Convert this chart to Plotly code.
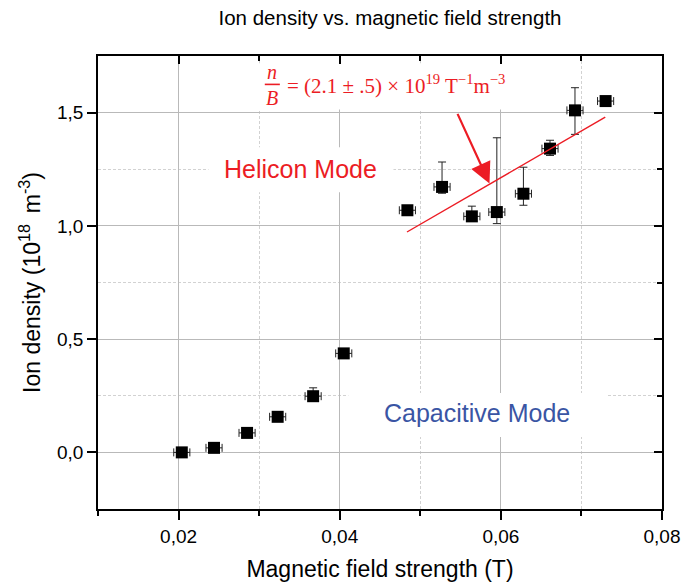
import plotly.graph_objects as go

# ---- data ----
field_T = [0.0204, 0.0244, 0.0285, 0.0323, 0.0367, 0.0405, 0.0484, 0.0527,
           0.0564, 0.0595, 0.0628, 0.0661, 0.0692, 0.0730]
density = [0.000, 0.020, 0.086, 0.157, 0.248, 0.437, 1.069, 1.172,
           1.042, 1.061, 1.142, 1.341, 1.510, 1.551]
dens_err_plus = [0, 0, 0, 0, 0.037, 0, 0, 0.110, 0.045, 0.328, 0.117, 0.037, 0.100, 0]
dens_err_minus = [0, 0, 0, 0, 0, 0, 0, 0.028, 0.020, 0.051, 0.051, 0.030, 0.106, 0]
field_err = 0.001

fit_x = [0.04835, 0.07296]
fit_y = [0.973, 1.480]

RED = "#ec1c24"
BLUE = "#3a55a4"
SANS = "Liberation Sans, Arial, sans-serif"
SERIF = "Liberation Serif, Times New Roman, serif"

fig = go.Figure()

fig.add_trace(go.Scatter(
    x=field_T, y=density, mode="markers",
    marker=dict(symbol="square", size=12, color="black", line=dict(width=0)),
    error_y=dict(type="data", symmetric=False, array=dens_err_plus,
                 arrayminus=dens_err_minus, color="#222222", thickness=1, width=4),
    error_x=dict(type="constant", value=field_err, color="#222222", thickness=1, width=4),
    showlegend=False, hoverinfo="x+y"))

fig.add_trace(go.Scatter(
    x=fit_x, y=fit_y, mode="lines", line=dict(color=RED, width=1.4),
    showlegend=False, hoverinfo="skip"))

# dummy trace for mirrored inside ticks on top/right
fig.add_trace(go.Scatter(x=[None], y=[None], xaxis="x2", yaxis="y2",
                         showlegend=False, hoverinfo="skip"))

XR = [0.01, 0.08]
YR = [-0.25, 1.75]
GRID = "#b9b9b9"
MGRID = "#d2d2d2"

fig.update_layout(
    width=683, height=582,
    margin=dict(l=98, r=21, t=56, b=73),
    paper_bgcolor="white", plot_bgcolor="white",
    separators=",.",
    font=dict(family=SANS, color="black", size=19),
    title=dict(text="Ion density vs. magnetic field strength",
               x=390 / 683, xref="container", xanchor="center",
               y=1 - 18 / 582, yref="container", yanchor="middle",
               font=dict(family=SANS, size=20.5, color="black")),
    xaxis=dict(range=XR, dtick=0.02, tick0=0, tickformat=".2f", automargin=False,
               showline=True, linecolor="black", linewidth=1.8, mirror=True,
               ticks="outside", ticklen=9, tickwidth=1.8, tickcolor="black",
               showgrid=True, gridcolor=GRID, gridwidth=1, zeroline=False,
               minor=dict(dtick=0.01, tick0=0, ticks="outside", ticklen=5,
                          tickwidth=1.5, tickcolor="black", showgrid=True,
                          gridcolor=MGRID, gridwidth=1, griddash="3px,2px"),
               tickfont=dict(size=19),
               title=dict(text="Magnetic field strength (T)",
                          font=dict(size=23), standoff=19)),
    yaxis=dict(range=YR, dtick=0.5, tick0=0, tickformat=".1f", automargin=False,
               showline=True, linecolor="black", linewidth=1.8, mirror=True,
               ticks="outside", ticklen=9, tickwidth=1.8, tickcolor="black",
               showgrid=True, gridcolor=GRID, gridwidth=1, zeroline=False,
               minor=dict(dtick=0.25, tick0=0, ticks="", showgrid=True,
                          gridcolor=MGRID, gridwidth=1, griddash="3px,2px"),
               tickfont=dict(size=19),
               title=dict(text="Ion density (10<sup>18 </sup> m<sup>-3</sup>)",
                          font=dict(size=23), standoff=10)),
    xaxis2=dict(range=XR, overlaying="x", side="top", anchor="y2", automargin=False,
                dtick=0.02, tick0=0, ticks="inside", ticklen=8, tickwidth=1.8,
                tickcolor="black", showticklabels=False, showgrid=False,
                zeroline=False, showline=False,
                minor=dict(dtick=0.01, tick0=0, ticks="inside", ticklen=5,
                           tickwidth=1.5, tickcolor="black", showgrid=False)),
    yaxis2=dict(range=YR, overlaying="y", side="right", anchor="x2", automargin=False,
                dtick=0.5, tick0=0, ticks="inside", ticklen=8, tickwidth=1.8,
                tickcolor="black", showticklabels=False, showgrid=False,
                zeroline=False, showline=False,
                minor=dict(dtick=0.25, tick0=0, ticks="inside", ticklen=5,
                           tickwidth=1.5, tickcolor="black", showgrid=False)),
)

# white label boxes (hide gridlines behind text)
for (x0, x1, y0, y1) in [(0.02371, 0.04667, 1.148, 1.347),
                         (0.04107, 0.07321, 0.0675, 0.2616),
                         (0.02915, 0.06180, 1.514, 1.718)]:
    fig.add_shape(type="rect", xref="x", yref="y", x0=x0, x1=x1, y0=y0, y1=y1,
                  fillcolor="white", line=dict(width=0), layer="between")

fig.add_annotation(x=0.0351, y=1.25, xref="x", yref="y", text="Helicon Mode",
                   showarrow=False, font=dict(family=SANS, size=25, color=RED))
fig.add_annotation(x=0.0570, y=0.173, xref="x", yref="y", text="Capacitive Mode",
                   showarrow=False, font=dict(family=SANS, size=25, color=BLUE))

# formula n/B = ...
fig.add_annotation(x=0.03163, y=1.620, xref="x", yref="y",
                   text="<i>n</i><br><i>B</i>", showarrow=False, align="center",
                   font=dict(family=SERIF, size=20, color=RED))
fig.add_shape(type="line", xref="x", yref="y", x0=0.03070, x1=0.03257,
              y0=1.6246, y1=1.6246, line=dict(color=RED, width=1.6), layer="above")
fig.add_annotation(x=0.0332, y=1.6246, xref="x", yref="y", xanchor="left",
                   text="= (2.1 ± .5) × 10<sup>19</sup> T<sup>−1</sup>m<sup>−3</sup>",
                   showarrow=False, font=dict(family=SERIF, size=21, color=RED))

# arrow
fig.add_annotation(x=0.05859, y=1.187, ax=0.05454, ay=1.501,
                   xref="x", yref="y", axref="x", ayref="y", text="",
                   showarrow=True, arrowhead=2, arrowsize=1.9, arrowwidth=2.2,
                   arrowcolor=RED, standoff=0)

fig.write_html("out.html")
